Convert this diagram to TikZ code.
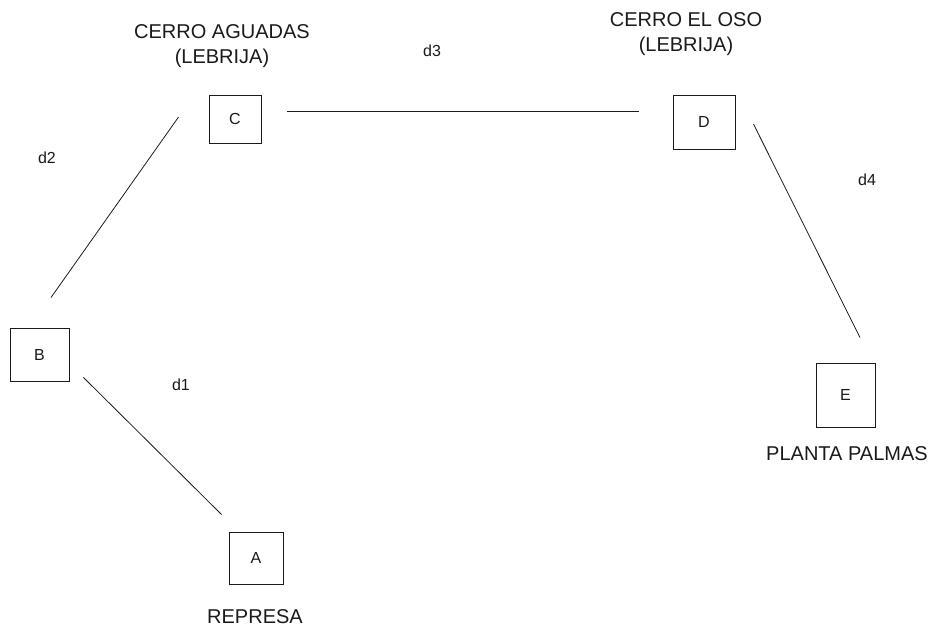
\documentclass[tikz,border=0pt]{standalone}
\usepackage{fontspec}
\setmainfont{Liberation Sans}
\definecolor{ink}{HTML}{1A1A1A}

\begin{document}
\begin{tikzpicture}[x=1pt,y=-1pt,
    site/.style={draw=ink,line width=0.9pt,inner sep=0pt,text=ink,font=\fontsize{16}{18}\selectfont},
    place/.style={align=center,text=ink,font=\fontsize{20}{24.5}\selectfont},
    dist/.style={text=ink,font=\fontsize{16}{18}\selectfont},
    link/.style={draw=ink,line width=0.8pt}]
  % canvas in pixel units, y pointing down
  \useasboundingbox (0,0) rectangle (940,628);

  % stations
  \node[site,minimum width=54pt,minimum height=52pt] (A) at (256,558) {A};
  \node[site,minimum width=59pt,minimum height=53pt] (B) at (39.5,354.5) {B};
  \node[site,minimum width=52pt,minimum height=48pt] (C) at (235,119) {C};
  \node[site,minimum width=62pt,minimum height=54pt] (D) at (704,122) {D};
  \node[site,minimum width=59pt,minimum height=64pt] (E) at (845.5,395) {E};

  % site names
  \node[place] (represa) at (255,617) {REPRESA};
  \node[place] (aguadas) at (222,46) {CERRO AGUADAS\\(LEBRIJA)};
  \node[place] (oso) at (686,34) {CERRO EL OSO\\(LEBRIJA)};
  \node[place] (palmas) at (847,454) {PLANTA PALMAS};

  % distances
  \node[dist] (d1) at (181,385) {d1};
  \node[dist] (d2) at (47,158) {d2};
  \node[dist] (d3) at (432,51) {d3};
  \node[dist] (d4) at (867,180) {d4};

  % links, kept clear of the boxes
  \draw[link] ([xshift=14pt,yshift=4pt]B.south east) -- ([xshift=-7pt,yshift=17pt]A.north west);
  \draw[link] ([xshift=11.5pt,yshift=30pt]B.north) -- ([xshift=-30pt,yshift=2pt]C.west);
  \draw[link] ([xshift=26pt,yshift=8pt]C.east) -- ([xshift=-34pt,yshift=11pt]D.west);
  \draw[link] ([xshift=18pt,yshift=-2pt]D.east) -- ([xshift=14.5pt,yshift=25pt]E.north);
\end{tikzpicture}
\end{document}
